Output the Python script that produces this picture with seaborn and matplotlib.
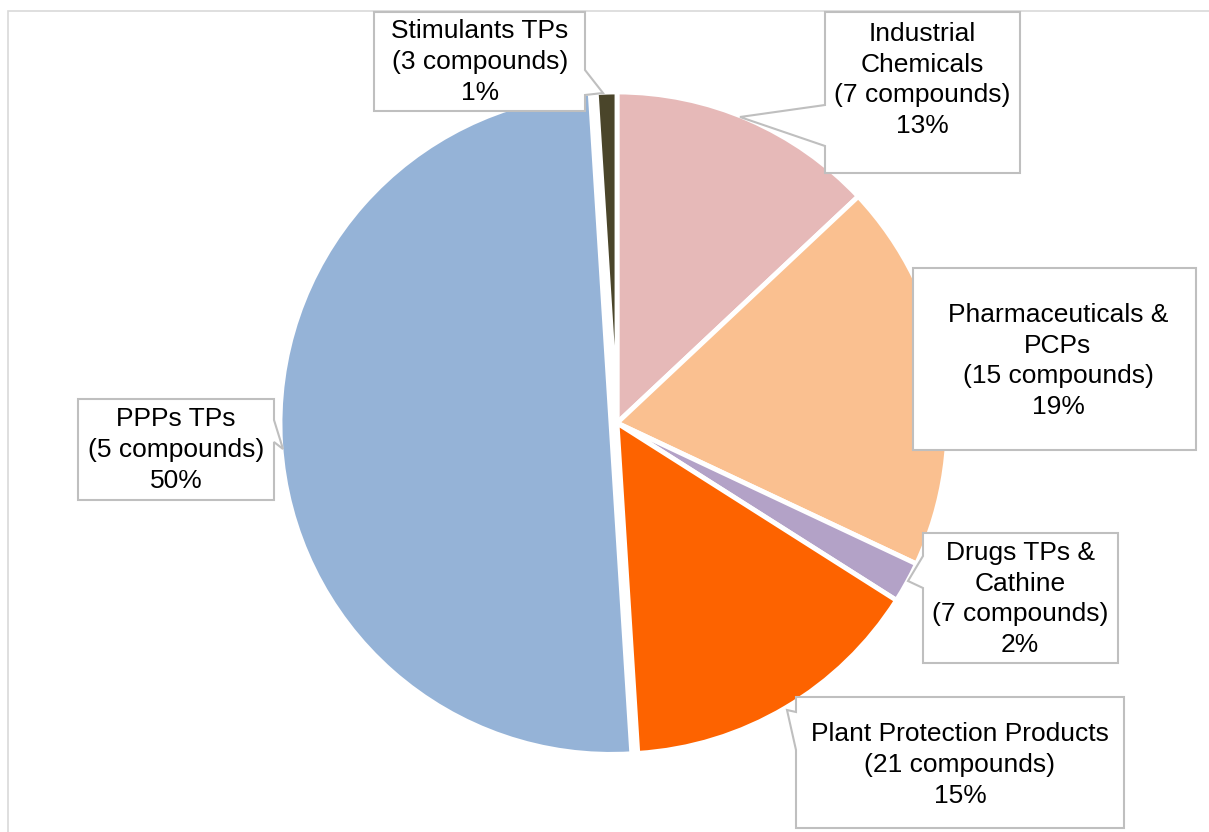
import matplotlib
matplotlib.use("Agg")
import matplotlib.pyplot as plt
from matplotlib.patches import Polygon
import seaborn as sns

# Share of detected compounds per class (clockwise from 12 o'clock)
categories = [
    "Industrial\nChemicals",
    "Pharmaceuticals &\nPCPs",
    "Drugs TPs &\nCathine",
    "Plant Protection Products",
    "PPPs TPs",
    "Stimulants TPs",
]
compounds = [7, 15, 7, 21, 5, 3]
shares = [13, 19, 2, 15, 50, 1]
colors = ["#e6b9b8", "#fac090", "#b3a2c7", "#fd6300", "#95b3d7", "#4a452a"]

W, H = 1209, 832

sns.set_theme(style="white")
plt.rcParams["font.family"] = ["Liberation Sans", "DejaVu Sans"]

fig = plt.figure(figsize=(W / 100, H / 100), dpi=100)
ax = fig.add_axes([0, 0, 1, 1])


def Y(y):
    """Top-down pixel row to axis coordinate."""
    return H - y


cx, cy, r = 617, Y(423), 331
explode = [0, 0, 0, 0, 6, 0]
ax.pie(
    shares,
    colors=colors,
    startangle=90,
    counterclock=False,
    center=(cx, cy),
    radius=r,
    explode=explode,
    wedgeprops=dict(edgecolor="white", linewidth=3.5),
)

# chart frame (top and left edges)
ax.plot([8, 8, W], [Y(H), Y(11), Y(11)], color="#d9d9d9", lw=1.2,
        solid_joinstyle="miter", zorder=1)

# callout boxes: rectangle (x0, y0, x1, y1), pointer (base1, tip, base2), text centre
callouts = [
    dict(box=(825, 12, 1020, 173), side="left", ptr=((825, 105), (740, 117), (825, 146)), txt=(922, 80)),
    dict(box=(913, 268, 1196, 450), side=None, ptr=None, txt=(1058, 361)),
    dict(box=(923, 533, 1118, 663), side="left", ptr=((923, 556), (908, 581), (923, 588)), txt=(1020, 599)),
    dict(box=(796, 697, 1124, 828), side="left", ptr=((796, 712), (787, 710), (796, 750)), txt=(960, 765)),
    dict(box=(78, 399, 274, 500), side="right", ptr=((274, 420), (283, 449), (274, 442)), txt=(176, 450)),
    dict(box=(374, 12, 585, 111), side="right", ptr=((585, 70), (603, 93), (585, 95)), txt=(480, 62)),
]

for cat, n, pct, c in zip(categories, compounds, shares, callouts):
    x0, y0, x1, y1 = c["box"]
    if c["side"] == "left":
        p1, tip, p2 = c["ptr"]
        pts = [(x0, y0), (x1, y0), (x1, y1), (x0, y1), p2, tip, p1]
    elif c["side"] == "right":
        p1, tip, p2 = c["ptr"]
        pts = [(x0, y0), (x1, y0), p1, tip, p2, (x1, y1), (x0, y1)]
    else:
        pts = [(x0, y0), (x1, y0), (x1, y1), (x0, y1)]
    poly = Polygon([(px, Y(py)) for px, py in pts], closed=True,
                   facecolor="white", edgecolor="#bfbfbf", lw=1.5, zorder=5)
    ax.add_patch(poly)
    tx, ty = c["txt"]
    ax.text(tx, Y(ty), f"{cat}\n({n} compounds)\n{pct}%", ha="center", va="center",
            fontsize=19, color="black", linespacing=1.35, zorder=6)

ax.set_xlim(0, W)
ax.set_ylim(0, H)
ax.set_aspect("equal", adjustable="box")
ax.axis("off")

fig.savefig("out.png", dpi=100, facecolor="white")
